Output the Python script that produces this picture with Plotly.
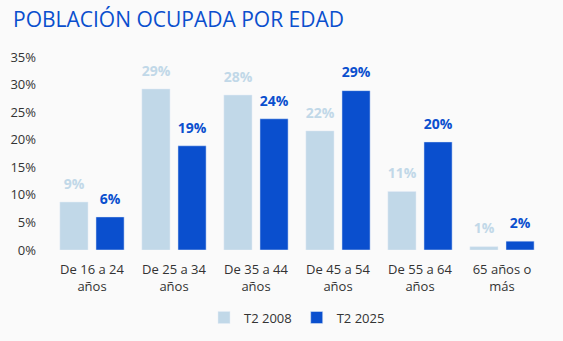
import plotly.graph_objects as go

categories = ["De 16 a 24<br>años", "De 25 a 34<br>años", "De 35 a 44<br>años",
              "De 45 a 54<br>años", "De 55 a 64<br>años", "65 años o<br>más"]
t2_2008 = [0.087, 0.292, 0.281, 0.216, 0.106, 0.006]
t2_2025 = [0.060, 0.189, 0.238, 0.289, 0.196, 0.016]
series_names = ["T2 2008", "T2 2025"]

light = "#c1d8e8"
dark = "#0a4fce"
font_family = "'Open Sans', sans-serif"

fig = go.Figure()
for i, (name, vals, col) in enumerate([(series_names[0], t2_2008, light),
                                        (series_names[1], t2_2025, dark)]):
    fig.add_trace(go.Bar(
        x=categories, y=vals, name=name,
        marker=dict(color=col),
        offsetgroup=str(i), alignmentgroup="a",
        hoverinfo="skip",
    ))
for i, (vals, col) in enumerate([(t2_2008, light), (t2_2025, dark)]):
    fig.add_trace(go.Scatter(
        x=categories, y=vals, mode="markers+text", showlegend=False,
        marker=dict(size=14, opacity=0),
        text=[f"{v:.0%}" for v in vals], textposition="top center",
        textfont=dict(color=col, size=14, family=font_family, weight="bold"),
        offsetgroup=str(i), alignmentgroup="a",
        cliponaxis=False, hoverinfo="skip",
    ))

fig.update_layout(
    width=563, height=341,
    paper_bgcolor="#fafafa", plot_bgcolor="#fafafa",
    margin=dict(l=51, r=20, t=57, b=91, autoexpand=False),
    barmode="group", bargap=0.12, bargroupgap=0.22,
    scattermode="group", scattergap=0.12,
    font=dict(family=font_family, color="#333333", size=13),
    title=dict(text="POBLACIÓN OCUPADA POR EDAD", xref="container", yref="container",
               x=13/563, xanchor="left", y=1-20/341, yanchor="middle",
               font=dict(size=21, color="#0a4fce", family=font_family)),
    showlegend=True,
    legend=dict(orientation="h", x=0.5, xanchor="center", y=-0.35, yanchor="middle",
                font=dict(size=13, color="#333333"), itemwidth=30, traceorder="normal"),
)
fig.update_yaxes(range=[0, 0.35], dtick=0.05, tickformat=".0%", showgrid=False,
                 zeroline=False, showline=False, ticks="", ticklabelstandoff=14,
                 automargin=False, tickfont=dict(size=13, color="#333333"))
fig.update_xaxes(showgrid=False, showline=False, ticks="", automargin=False,
                 ticklabelstandoff=10, tickfont=dict(size=13, color="#333333"))

fig.write_html("out.html")
